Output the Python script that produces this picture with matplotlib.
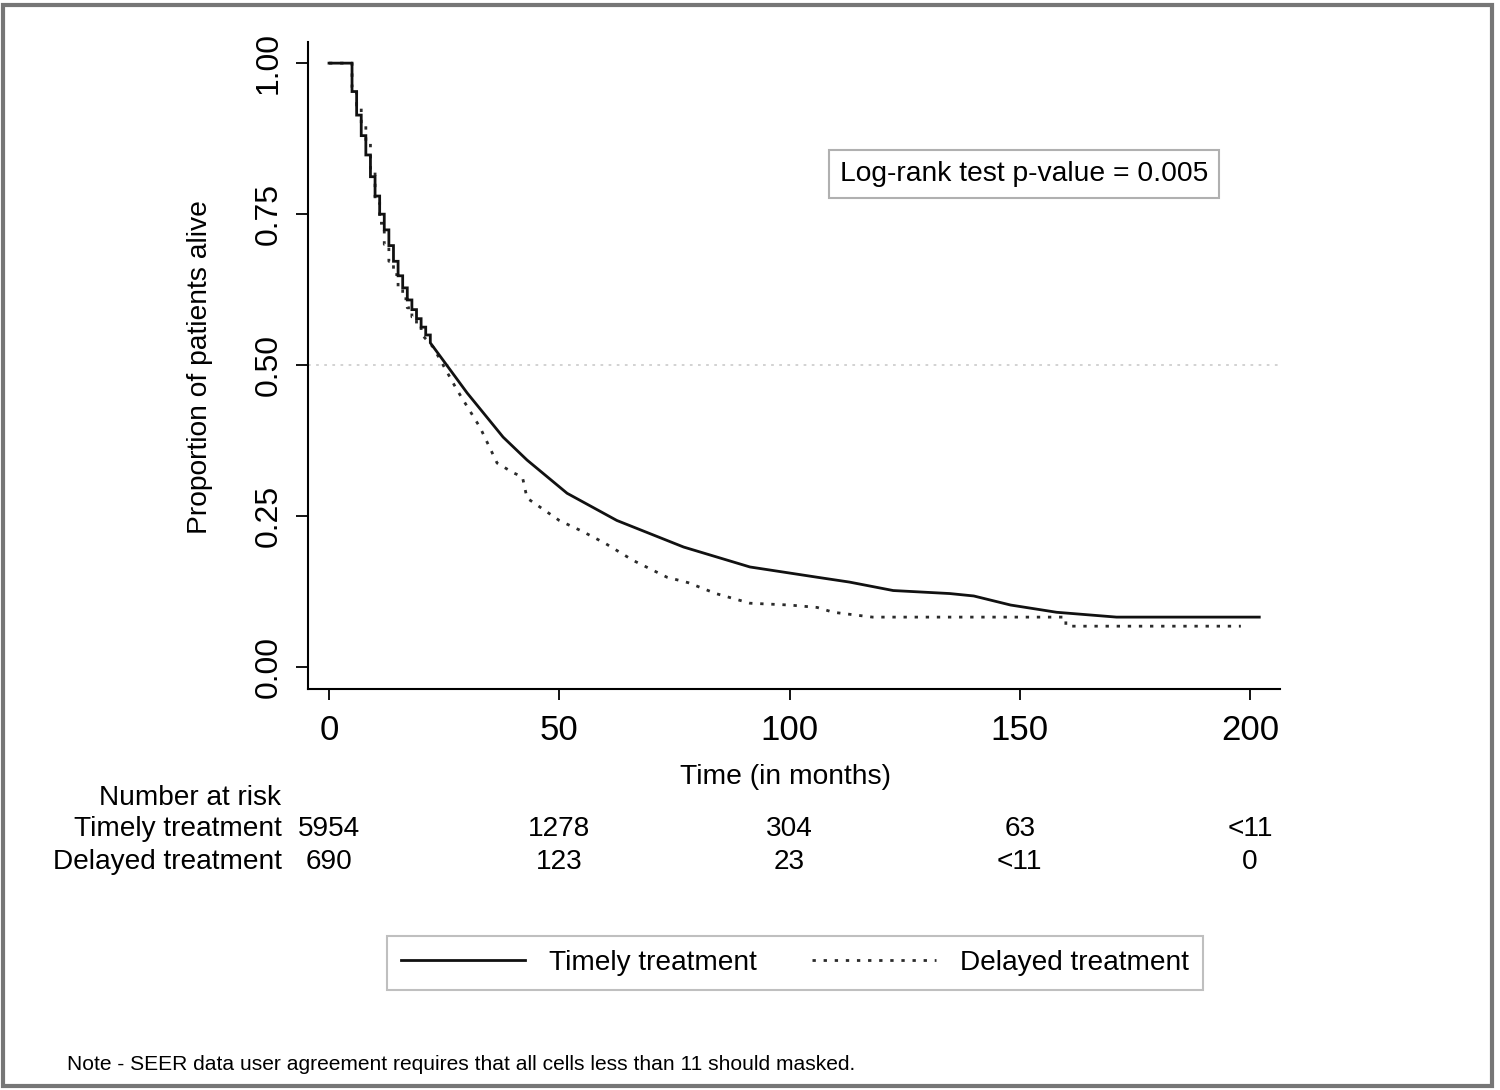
import numpy as np
import matplotlib
matplotlib.use("Agg")
import matplotlib.pyplot as plt
from matplotlib.patches import Rectangle
import matplotlib.transforms as mtransforms

plt.rcParams['font.family'] = ['Liberation Sans', 'DejaVu Sans']

# Kaplan-Meier estimates (months, proportion alive)
timely_t = [0, 5, 6, 7, 8, 9, 10, 11, 12, 13, 14, 15, 16, 17, 18, 19, 20,
            21, 22, 24.8, 30, 37.8, 43, 51.7, 62.5, 77, 91.4, 106, 113, 122.5,
            134.8, 140, 148, 158, 171, 202]
timely_s = [1.0, 0.953, 0.914, 0.88, 0.848, 0.812, 0.78, 0.75, 0.724, 0.698,
            0.672, 0.648, 0.628, 0.608, 0.592, 0.577, 0.563,
            0.55, 0.537, 0.508, 0.454, 0.381, 0.343, 0.288, 0.243, 0.199,
            0.166, 0.149, 0.141, 0.127, 0.122, 0.118, 0.103, 0.091, 0.083, 0.083]

delayed_t = [0, 5, 6, 7, 8, 9, 10, 11, 12, 13, 14, 15, 16, 17, 18, 19, 20,
             22.6, 27.8, 32.8, 36.5, 40, 42, 43, 50, 55, 60, 66, 73.4, 78, 84,
             91.4, 100, 106, 109.5, 118, 160, 160, 198]
delayed_s = [1.0, 0.96, 0.93, 0.9, 0.87, 0.82, 0.77, 0.735, 0.70, 0.672,
             0.65, 0.63, 0.61, 0.595, 0.58, 0.565, 0.552,
             0.53, 0.459, 0.397, 0.338, 0.322, 0.315, 0.28, 0.243, 0.225,
             0.205, 0.177, 0.149, 0.14, 0.122, 0.106, 0.103, 0.099, 0.091,
             0.083, 0.083, 0.068, 0.068]

risk_times = [0, 50, 100, 150, 200]
risk_timely = ['5954', '1278', '304', '63', '<11']
risk_delayed = ['690', '123', '23', '<11', '0']

pvalue_text = 'Log-rank test p-value = 0.005'
note_text = 'Note - SEER data user agreement requires that all cells less than 11 should masked.'


def staircase(t, s, upto=22):
    # monthly steps early on, smooth line afterwards
    xs, ys = [t[0]], [s[0]]
    for i in range(1, len(t)):
        if t[i] <= upto:
            xs.append(t[i]); ys.append(s[i - 1])
        xs.append(t[i]); ys.append(s[i])
    return xs, ys


W, H = 1500, 1090
fig = plt.figure(figsize=(15, 10.9), dpi=100)
fig.patch.set_facecolor('white')

ax = fig.add_axes([308 / W, 1 - 689 / H, (1280 - 308) / W, (689 - 42) / H])

ax.axhline(0.5, color='#cfcfcf', lw=1.3, ls=(0, (1.5, 3)), zorder=1)

tx, ty = staircase(timely_t, timely_s)
dx, dy = staircase(delayed_t, delayed_s, upto=20)
l2, = ax.plot(dx, dy, color='#2b2b2b', lw=2.0, ls=(0, (1.2, 2.8)),
              dash_capstyle='butt', label='Delayed treatment', zorder=2)
l1, = ax.plot(tx, ty, color='#111111', lw=2.0, solid_joinstyle='miter',
              label='Timely treatment', zorder=3)

ax.set_xlim(-4.56, 206.5)
ax.set_ylim(-0.036, 1.035)
ax.set_xticks([0, 50, 100, 150, 200])
ax.set_yticks([0, 0.25, 0.5, 0.75, 1.0])
ax.set_yticklabels(['0.00', '0.25', '0.50', '0.75', '1.00'], rotation=90, va='center')
ax.tick_params(axis='x', length=8, width=1.3, pad=10, labelsize=25)
ax.tick_params(axis='y', length=8.5, width=1.3, pad=9, labelsize=23)
for side in ['top', 'right']:
    ax.spines[side].set_visible(False)
for side in ['left', 'bottom']:
    ax.spines[side].set_linewidth(1.5)

fig.text(200 / W, 1 - 367 / H, 'Proportion of patients alive', rotation=90,
         ha='center', va='center', fontsize=20.3)
fig.text(785 / W, 1 - 777 / H, 'Time (in months)', ha='center', va='center', fontsize=20.3)

# number at risk table
fs = 20.2
fig.text(281 / W, 1 - 798 / H, 'Number at risk', ha='right', va='center', fontsize=fs)
fig.text(282 / W, 1 - 829 / H, 'Timely treatment', ha='right', va='center', fontsize=fs)
fig.text(282 / W, 1 - 862 / H, 'Delayed treatment', ha='right', va='center', fontsize=fs)
trans = mtransforms.blended_transform_factory(ax.transData, fig.transFigure)
for t, a, b in zip(risk_times, risk_timely, risk_delayed):
    ax.text(t, 1 - 829 / H, a, transform=trans, ha='center', va='center', fontsize=fs)
    ax.text(t, 1 - 862 / H, b, transform=trans, ha='center', va='center', fontsize=fs)

# p-value box
fig.text(1024 / W, 1 - 174 / H, pvalue_text, ha='center', va='center', fontsize=20.3,
         bbox=dict(boxstyle='square,pad=0.38', fc='white', ec='#b0b0b0', lw=1.5))

leg = fig.legend(handles=[l1, l2], loc='center', bbox_to_anchor=(795 / W, 1 - 963 / H),
                 ncol=2, fontsize=20.2, frameon=True, fancybox=False, edgecolor='#b0b0b0',
                 handlelength=4.4, handletextpad=0.85, columnspacing=2.0,
                 borderpad=0.5, borderaxespad=0)
leg.get_frame().set_linewidth(1.5)

fig.text(67 / W, 1 - 1065 / H, note_text, ha='left', va='center', fontsize=15.1)

# outer frame
fig.patches.append(Rectangle((3 / W, 4 / H), 1489 / W, 1081 / H, transform=fig.transFigure,
                             fill=False, ec='#767676', lw=3))

fig.savefig('out.png', dpi=100)
